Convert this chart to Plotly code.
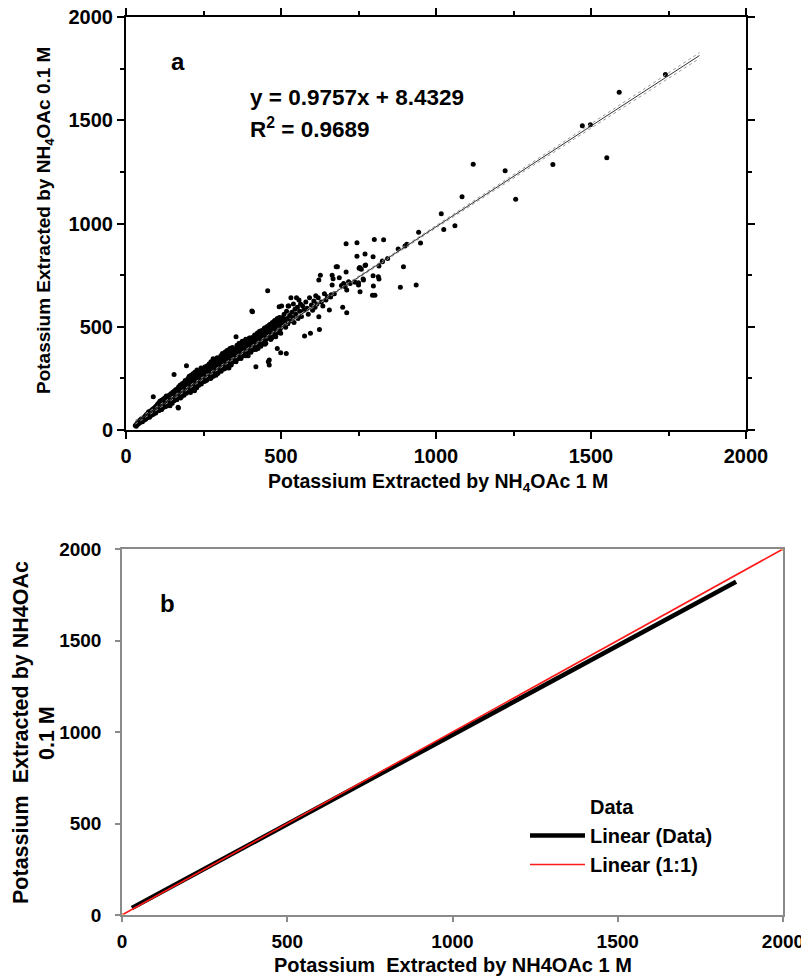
import plotly.graph_objects as go

# ---------------- Panel a data: K extracted by NH4OAc 1 M (x) vs 0.1 M (y)
k_1m = [
    30, 33, 35, 36, 38, 40, 41, 43, 44, 46, 47, 49, 50, 52, 53, 55, 56, 58, 59, 60,
    62, 63, 65, 66, 68, 69, 70, 72, 73, 75, 76, 78, 79, 80, 82, 83, 85, 86, 88, 88, 89, 90, 92, 93, 95, 96, 97, 99, 100,
    101, 102, 104, 105, 106, 108, 109, 110, 112, 113, 114, 116, 117, 118, 120, 121, 122, 124, 125, 126,
    128, 129, 130, 132, 133, 134, 136, 137, 138, 140, 141, 142, 144, 145, 146, 148, 149, 150,
    151, 152, 154, 155, 156, 158, 159, 160, 162, 163, 164, 166, 167, 168, 168, 170, 171, 172, 174, 175,
    176, 178, 179, 180, 182, 183, 184, 186, 187, 188, 190, 191, 192, 194, 195, 196, 198, 199, 200,
    201, 202, 204, 205, 206, 208, 209, 210, 212, 213, 214, 216, 217, 218, 220, 221, 222, 224, 225, 226,
    228, 229, 230, 232, 233, 234, 236, 237, 238, 240, 241, 242, 244, 245, 246, 248, 249, 250,
    252, 253, 254, 256, 257, 258, 260, 261, 262, 264, 265, 266, 268, 269, 270, 272, 273, 274, 276, 277,
    278, 280, 281, 282, 284, 285, 286, 288, 289, 290, 292, 293, 294, 296, 297, 298, 300,
    302, 303, 304, 306, 307, 308, 310, 311, 312, 314, 315, 316, 318, 319, 320, 322, 323, 324, 326, 327,
    328, 330, 331, 332, 334, 335, 336, 338, 339, 340, 342, 343, 344, 346, 347, 348, 350,
    352, 354, 355, 356, 358, 360, 361, 362, 364, 365, 366, 368, 370, 371, 372, 374, 375, 376, 378, 380,
    382, 384, 385, 386, 388, 390, 392, 394, 395, 396, 398, 400,
    402, 404, 405, 406, 408, 408, 410, 412, 414, 415, 416, 418, 419, 420, 422, 424, 425, 426, 428, 430,
    432, 434, 435, 436, 438, 440, 442, 444, 445, 446, 448, 450,
    452, 454, 455, 457, 458, 460, 462, 462, 464, 466, 468, 470, 472, 474, 476, 478, 480, 482, 484, 486,
    488, 490, 492, 494, 496, 498, 500,
    503, 505, 508, 510, 512, 515, 518, 520, 522, 525, 528, 530, 532, 535, 538, 540, 542, 545, 548, 550,
    553, 555, 558, 560, 563, 566, 570, 573, 576, 580, 584, 588, 592, 595, 598,
    494, 502, 523, 355, 406, 419, 459, 488, 155, 195, 169, 499, 517,
    602, 606, 610, 612, 616, 620, 622, 624, 627, 630, 635, 640, 645, 650, 656, 660, 662, 665, 668, 672,
    678, 682, 688, 695, 699, 702, 707, 710, 712, 718, 723, 622, 665, 712,
    739, 745, 710, 745, 750, 750, 752, 754, 759, 765, 766, 771, 771, 773, 755, 797, 797, 798, 801, 803,
    795, 814, 816, 816, 827, 827, 831, 844, 878, 885, 895, 900, 906, 936, 944, 950,
    1017, 1025, 1061, 1084, 1120, 1223, 1257, 1377, 1472, 1498, 1551, 1591, 1740,
    # upper side of the dense band
    103, 111, 119, 127, 135, 143, 151, 159, 167, 175, 183, 191, 199, 207, 215, 223, 231, 239, 247, 255,
    263, 271, 279, 287, 295, 303, 311, 319, 327, 335, 343, 351, 359, 367, 375, 383, 391, 399, 407, 415,
    423, 431, 439, 447, 455, 463, 471, 479, 487, 495,
    # lower side of the dense band
    107, 115, 123, 131, 139, 147, 155, 163, 171, 179, 187, 195, 203, 211, 219, 227, 235, 243, 251, 259,
    267, 275, 283, 291, 299, 307, 315, 323, 331, 339, 347, 355, 363, 371, 379, 387, 395, 403, 411, 419,
    427, 435, 443, 451, 459, 467, 475, 483, 491, 499,
]
k_01m = [
    22, 18, 30, 26, 35, 30, 40, 34, 45, 38, 50, 42, 55, 47, 40, 58, 50, 62, 48, 55,
    68, 52, 60, 75, 58, 70, 80, 64, 88, 72, 62, 90, 78, 70, 96, 84, 74, 100, 90, 161, 78, 105, 86, 95, 112, 82, 100, 118, 92,
    108, 125, 96, 118, 132, 104, 122, 140, 112, 130, 100, 145, 120, 108, 138, 150, 118, 128, 155, 112,
    142, 132, 165, 120, 150, 138, 160, 125, 145, 170, 135, 118, 155, 175, 140, 162, 130, 182,
    150, 168, 142, 188, 160, 175, 150, 195, 165, 182, 148, 200, 172, 158, 110, 210, 185, 165, 178, 218,
    155, 195, 205, 170, 225, 185, 200, 212, 168, 230, 192, 240, 180, 205, 220, 188, 235, 210, 250,
    195, 225, 260, 210, 240, 182, 230, 265, 215, 250, 198, 272, 235, 220, 255, 190, 280, 242, 228, 262,
    205, 290, 248, 232, 270, 215, 255, 285, 240, 262, 225, 300, 250, 275, 235, 290, 260, 245,
    280, 235, 305, 265, 250, 290, 272, 310, 245, 298, 282, 260, 320, 290, 268, 305, 250, 330, 285, 300,
    270, 315, 345, 260, 295, 325, 280, 340, 305, 265, 318, 290, 350, 300, 275, 330, 310,
    345, 290, 325, 360, 305, 335, 310, 370, 340, 320, 350, 295, 365, 330, 378, 345, 310, 360, 385, 325,
    350, 340, 372, 300, 355, 395, 335, 362, 315, 380, 345, 400, 355, 330, 372, 385, 350,
    368, 340, 390, 355, 410, 365, 345, 380, 395, 420, 360, 375, 350, 400, 385, 365, 430, 378, 395, 360,
    410, 385, 370, 440, 395, 380, 405, 360, 420, 390, 445, 400,
    380, 415, 395, 430, 405, 573, 420, 390, 440, 410, 455, 400, 425, 445, 415, 470, 430, 395, 450, 420,
    440, 460, 410, 480, 435, 450, 425, 470, 445, 490, 415, 460,
    440, 475, 500, 674, 455, 480, 339, 315, 510, 465, 490, 445, 520, 470, 500, 455, 530, 485, 510, 470,
    540, 495, 520, 480, 505, 490, 525,
    520, 545, 505, 560, 530, 498, 575, 540, 515, 600, 555, 528, 640, 570, 545, 610, 520, 585, 560, 640,
    595, 540, 630, 575, 610, 550, 600, 580, 455, 620, 590, 560, 640, 468, 605,
    597, 600, 600, 452, 576, 306, 331, 395, 269, 311, 106, 374, 371,
    580, 625, 595, 650, 610, 640, 548, 487, 750, 620, 600, 660, 630, 645, 581, 644, 655, 749, 732, 660,
    790, 790, 737, 700, 595, 710, 694, 765, 678, 718, 710, 726, 702, 568,
    715, 907, 902, 842, 702, 713, 783, 787, 779, 731, 726, 852, 797, 799, 669, 839, 747, 697, 923, 653,
    652, 742, 794, 731, 818, 815, 921, 831, 876, 691, 790, 891, 900, 702, 958, 905,
    1047, 971, 989, 1129, 1287, 1255, 1118, 1286, 1473, 1478, 1318, 1636, 1722,
    # upper side of the dense band
    122, 132, 138, 150, 154, 166, 170, 184, 188, 200, 205, 218, 222, 236, 240, 252, 258, 270, 275, 288,
    292, 304, 310, 322, 326, 340, 344, 356, 362, 372, 378, 392, 396, 408, 414, 426, 430, 444, 448, 460,
    464, 478, 482, 494, 500, 510, 516, 528, 532, 545,
    # lower side of the dense band
    95, 99, 112, 116, 128, 131, 143, 146, 160, 161, 176, 178, 190, 192, 208, 207, 222, 223, 238, 240,
    255, 254, 270, 270, 288, 284, 302, 300, 318, 316, 336, 330, 350, 346, 365, 360, 382, 376, 398, 390,
    412, 406, 428, 420, 445, 438, 460, 452, 478, 468,
]

# regression shown on the chart
slope = 0.9757
intercept = 8.4329
r_squared = 0.9689
trend_x = [30, 1850]
# confidence band half-widths along the fitted line
band_x = [30, 400, 900, 1400, 1850]
band_half = [9, 4, 5, 9, 14]

# ---------------- Panel b data
fit_x = [30, 1858]
one_x = [0, 2000]
one_y = [0, 2000]
ticks = [0, 500, 1000, 1500, 2000]

FONT = "Liberation Sans, Arial, sans-serif"

# page body has an 8 px margin; figure is sized to fit the window
OX, OY = 8, 8
W, H = 801, 969


def fx(px):
    return (px - OX) / W


def fy(py):
    return 1 - (py - OY) / H


fig = go.Figure()

# Panel a
fig.add_trace(go.Scatter(
    x=k_1m, y=k_01m, mode="markers",
    marker=dict(color="black", size=5, line=dict(width=0)),
    xaxis="x", yaxis="y", showlegend=False))
trend_y = [slope * v + intercept for v in trend_x]
up_y = [slope * v + intercept + h for v, h in zip(band_x, band_half)]
lo_y = [slope * v + intercept - h for v, h in zip(band_x, band_half)]
for yy in (up_y, lo_y):
    fig.add_trace(go.Scatter(x=band_x, y=yy, mode="lines",
                             line=dict(color="#9a9a9a", width=1, dash="dot"),
                             xaxis="x", yaxis="y", showlegend=False))
fig.add_trace(go.Scatter(x=trend_x, y=trend_y, mode="lines",
                         line=dict(color="#333333", width=1),
                         xaxis="x", yaxis="y", showlegend=False))

# Panel b
fig.add_trace(go.Scatter(x=[None], y=[None], mode="lines", name="Data",
                         line=dict(width=0, color="rgba(0,0,0,0)"),
                         xaxis="x2", yaxis="y2"))
fit_y = [slope * v + intercept for v in fit_x]
fig.add_trace(go.Scatter(x=fit_x, y=fit_y, mode="lines", name="Linear (Data)",
                         line=dict(color="black", width=4.5),
                         xaxis="x2", yaxis="y2"))
fig.add_trace(go.Scatter(x=one_x, y=one_y, mode="lines", name="Linear (1:1)",
                         line=dict(color="#ff1a1a", width=1.6),
                         xaxis="x2", yaxis="y2"))
fig.add_trace(go.Scatter(x=one_x, y=one_y, mode="markers",
                         marker=dict(color="#f5a05a", size=4),
                         xaxis="x2", yaxis="y2", showlegend=False))

axis_a = dict(range=[0, 2000], tickvals=ticks, showgrid=False, zeroline=False,
              showline=True, linecolor="black", linewidth=2, mirror="allticks",
              ticks="outside", ticklen=7, tickwidth=2, tickcolor="black",
              minor=dict(ticks="outside", ticklen=4, tickwidth=2, tickcolor="black",
                         tick0=0, dtick=250),
              automargin=False, ticklabeloverflow="allow",
              tickfont=dict(family=FONT, size=20, color="black", weight="bold"))
axis_b = dict(range=[0, 2000], tickvals=ticks, showgrid=False, zeroline=False,
              showline=True, linecolor="#8a8a8a", linewidth=1.5, mirror=True,
              ticks="outside", ticklen=5, tickwidth=1.5, tickcolor="#8a8a8a",
              automargin=False, ticklabeloverflow="allow",
              tickfont=dict(family=FONT, size=19, color="black", weight="bold"))

fig.update_layout(
    width=W, height=H,
    margin=dict(l=0, r=0, t=0, b=0, autoexpand=False),
    paper_bgcolor="white", plot_bgcolor="white",
    xaxis=dict(axis_a, domain=[fx(126), fx(746)], anchor="y"),
    yaxis=dict(axis_a, domain=[fy(430), fy(17)], anchor="x"),
    xaxis2=dict(axis_b, domain=[fx(122), fx(783)], anchor="y2", ticklabelstandoff=3),
    yaxis2=dict(axis_b, domain=[fy(915), fy(549)], anchor="x2", ticklabelstandoff=10),
    legend=dict(x=fx(525), y=fy(787), xanchor="left", yanchor="top",
                bgcolor="rgba(0,0,0,0)", itemwidth=55,
                font=dict(family=FONT, size=20, color="black", weight="bold")),
    font=dict(family=FONT, color="black"),
)

bold = dict(family=FONT, color="black", weight="bold")
annots = [
    dict(x=fx(178), y=fy(62), text="a", font=dict(bold, size=24), xanchor="center"),
    dict(x=fx(248), y=fy(97), text=f"y = {slope}x + {intercept}",
         font=dict(bold, size=22.5), xanchor="left"),
    dict(x=fx(248), y=fy(128), text=f"R<sup>2</sup> = {r_squared}",
         font=dict(bold, size=22.5), xanchor="left"),
    dict(x=fx(45), y=fy(221), text="Potassium Extracted by NH<sub>4</sub>OAc 0.1 M",
         font=dict(bold, size=19), textangle=-90, xanchor="center"),
    dict(x=fx(438), y=fy(482), text="Potassium Extracted by NH<sub>4</sub>OAc 1 M",
         font=dict(bold, size=19.5), xanchor="center"),
    dict(x=fx(167), y=fy(603), text="b", font=dict(bold, size=24), xanchor="center"),
    dict(x=fx(453), y=fy(965), text="Potassium  Extracted by NH4OAc 1 M",
         font=dict(bold, size=20), xanchor="center"),
    dict(x=fx(21), y=fy(733), text="Potassium  Extracted by NH4OAc",
         font=dict(bold, size=21.5), textangle=-90, xanchor="center"),
    dict(x=fx(47), y=fy(733), text="0.1 M",
         font=dict(bold, size=21.5), textangle=-90, xanchor="center"),
]
for a in annots:
    a.update(xref="paper", yref="paper", showarrow=False, yanchor="middle")
fig.update_layout(annotations=annots)

fig.write_html("out.html")
